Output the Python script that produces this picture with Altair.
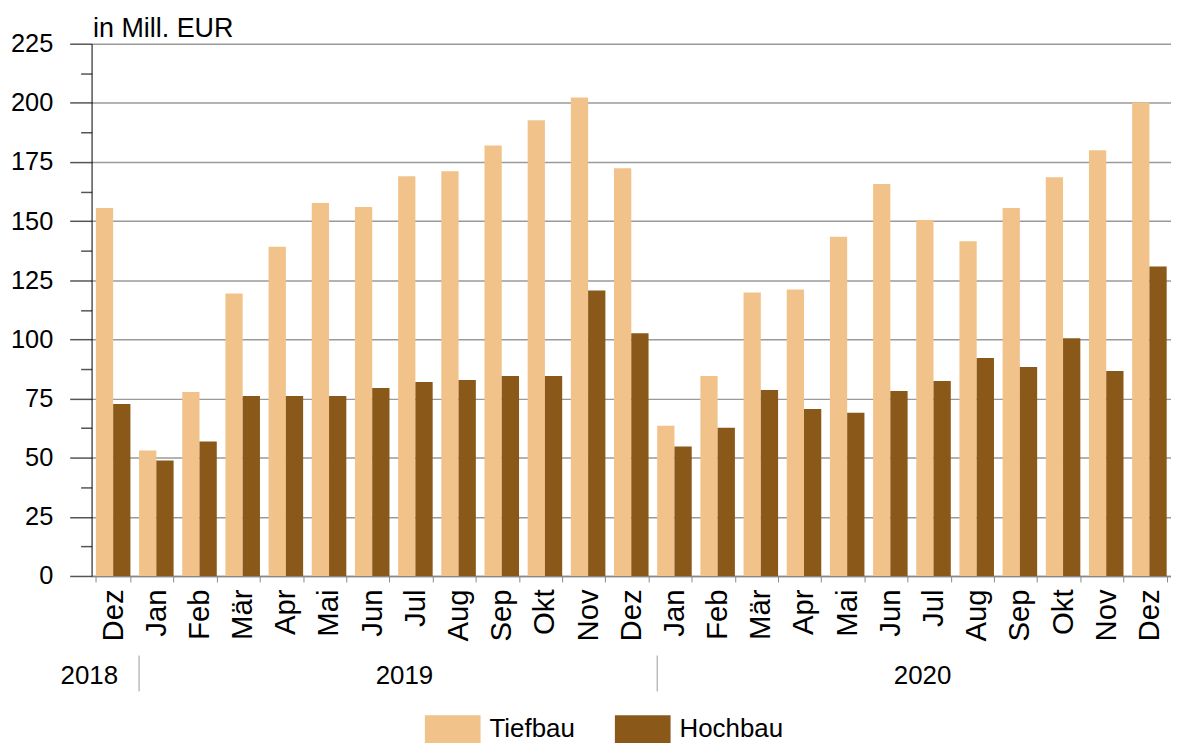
import altair as alt
import pandas as pd

months = ["Dez", "Jan", "Feb", "Mär", "Apr", "Mai", "Jun", "Jul", "Aug", "Sep", "Okt", "Nov", "Dez",
          "Jan", "Feb", "Mär", "Apr", "Mai", "Jun", "Jul", "Aug", "Sep", "Okt", "Nov", "Dez"]
years = [2018] + [2019] * 12 + [2020] * 12
tiefbau = [155.6, 53.0, 77.8, 119.4, 139.2, 157.7, 156.0, 169.0, 171.1, 182.0, 192.6, 202.3, 172.4,
           63.5, 84.5, 119.8, 121.1, 143.4, 165.7, 150.5, 141.5, 155.6, 168.6, 180.0, 200.2]
hochbau = [72.7, 48.8, 56.8, 76.1, 76.1, 76.1, 79.5, 82.0, 82.8, 84.5, 84.5, 120.7, 102.6,
           54.7, 62.7, 78.6, 70.6, 69.0, 78.2, 82.4, 92.1, 88.3, 100.5, 86.6, 130.8]
series_names = ["Tiefbau", "Hochbau"]
series_colors = ["#F1C38B", "#8A5919"]
y_values = [i * 12.5 for i in range(19)]
year_labels = ["2018", "2019", "2020"]
year_anchor = ["Dez|2018", "Jun|2019", "Jun|2020"]
separator_keys = ["Jan|2019", "Jan|2020"]

keys = [f"{m}|{y}" for m, y in zip(months, years)]
rows = []
for k, t, h in zip(keys, tiefbau, hochbau):
    rows.append({"key": k, "series": "Tiefbau", "value": t})
    rows.append({"key": k, "series": "Hochbau", "value": h})
df = pd.DataFrame(rows)

FONT = "Liberation Sans"

x_scale = alt.Scale(domain=keys, paddingInner=0.2, paddingOuter=0.1)
x_axis = alt.Axis(
    title=None, labelExpr="isString(datum.value) ? split(datum.value, '|')[0] : ''",
    labelAngle=-90, tickBand="extent",
    labelFontSize=29.5, labelFont=FONT, labelColor="black", labelPadding=7, tickSize=6,
    tickColor="#888888", domainColor="#888888", domainWidth=1.5, labelAlign="right",
    labelBaseline="middle", grid=False,
)

major = "datum.value % 25 == 0"
y_axis = alt.Axis(
    values=y_values, title="in Mill. EUR", titleAngle=0, titleAlign="left",
    titleBaseline="alphabetic", titleX=1, titleY=-7, titleFontSize=27, titleFont=FONT,
    titleFontWeight="normal", titleColor="black",
    labelExpr=f"{major} ? datum.label : ''", labelFontSize=25.5, labelFont=FONT,
    labelColor="black", labelPadding=17,
    tickSize={"condition": {"test": major, "value": 22}, "value": 11},
    tickColor="#555555", tickWidth=1.5, domainColor="black", domainWidth=1,
    grid=True, gridColor="#9a9a9a", gridWidth=1.5,
    gridOpacity={"condition": {"test": major, "value": 1}, "value": 0},
)

bars = alt.Chart(df).mark_bar().encode(
    x=alt.X("key:N", scale=x_scale, sort=keys, axis=x_axis),
    xOffset=alt.XOffset("series:N", sort=series_names,
                        scale=alt.Scale(domain=series_names, paddingInner=0, paddingOuter=0)),
    y=alt.Y("value:Q", scale=alt.Scale(domain=[0, 225], nice=False, zero=True), axis=y_axis),
    color=alt.Color(
        "series:N", scale=alt.Scale(domain=series_names, range=series_colors),
        legend=alt.Legend(
            title=None, orient="none", legendX=335, legendY=661, direction="horizontal",
            symbolType="M-1,-0.5H1V0.5H-1Z", symbolSize=3136, symbolStrokeWidth=0,
            symbolOpacity=1, labelFontSize=26, labelFont=FONT, labelColor="black",
            labelOffset=9, columnPadding=40, padding=0,
        ),
    ),
)

sep_df = pd.DataFrame({"key": separator_keys})
seps = alt.Chart(sep_df).mark_rule(color="#9a9a9a", strokeWidth=1).encode(
    x=alt.X("key:N", scale=x_scale, sort=keys, axis=x_axis, bandPosition=0),
    y=alt.value(615), y2=alt.value(651),
)

yr_df = pd.DataFrame({"label": year_labels, "key": year_anchor})
yr_first = alt.Chart(yr_df.iloc[:1]).mark_text(
    font=FONT, fontSize=26, color="black", align="center", baseline="middle", dx=-24
).encode(
    x=alt.X("key:N", scale=x_scale, sort=keys, axis=x_axis, bandPosition=0.5),
    y=alt.value(636), text="label:N",
)
yr_rest = alt.Chart(yr_df.iloc[1:]).mark_text(
    font=FONT, fontSize=26, color="black", align="center", baseline="middle", dx=15
).encode(
    x=alt.X("key:N", scale=x_scale, sort=keys, axis=x_axis, bandPosition=1),
    y=alt.value(636), text="label:N",
)

chart = alt.layer(bars, seps, yr_first, yr_rest).properties(
    width=1085, height=535,
    autosize=alt.AutoSizeParams(type="none"),
    padding={"left": 84, "top": 34, "right": 0, "bottom": 166},
    background="white",
).configure_view(stroke=None)

chart.save("out.html", embed_options={"renderer": "svg", "actions": False})
